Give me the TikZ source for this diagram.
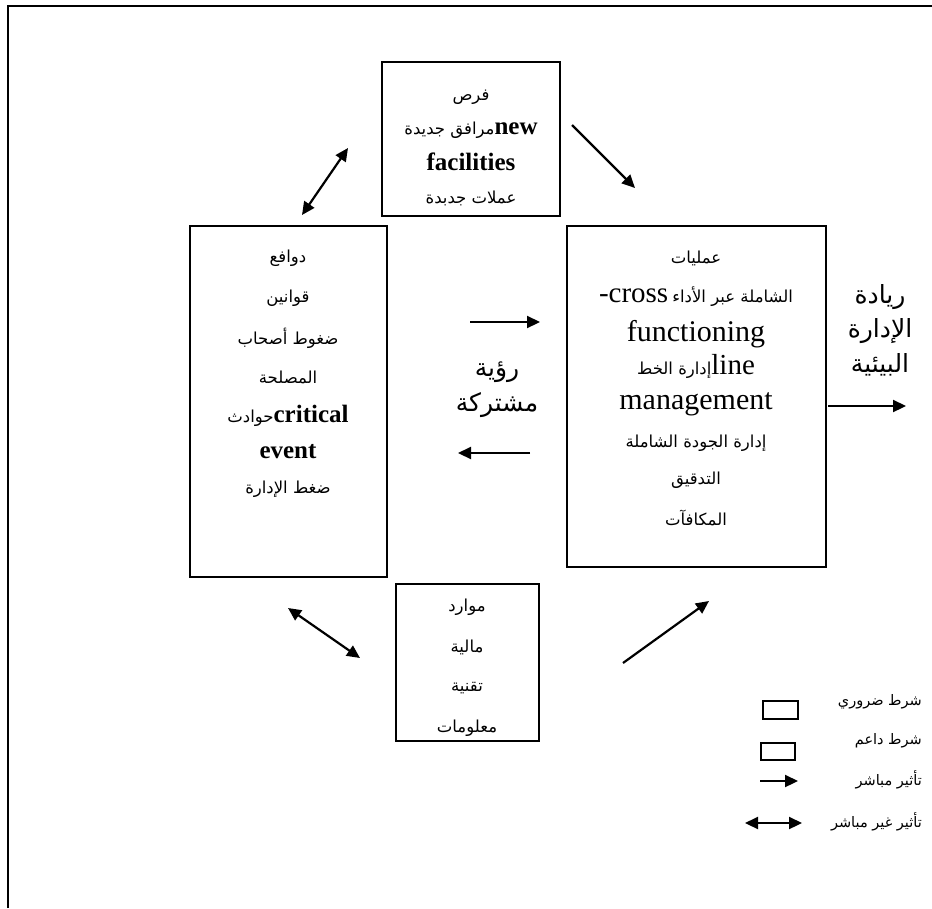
\documentclass[tikz,border=0pt]{standalone}
\usepackage{fontspec}
\setmainfont{Liberation Serif}
\newfontfamily\arabicfont[Script=Arabic]{DejaVu Sans}
\TeXXeTstate=1
\usetikzlibrary{arrows.meta}
\newcommand{\artxt}[1]{{\arabicfont\beginR #1\endR}}
\tikzset{
  box/.style={draw, line width=1.4pt, inner sep=0pt},
  lbox/.style={draw, line width=1.2pt, inner sep=0pt},
  ar/.style={font=\fontsize{16.5}{19}\selectfont, inner sep=0pt},
  en/.style={font=\fontsize{30}{34}\selectfont, inner sep=0pt},
  enb/.style={font=\fontsize{25}{29}\selectfont\bfseries, inner sep=0pt},
  big/.style={font=\fontsize{25}{29}\selectfont, inner sep=0pt},
  leg/.style={font=\fontsize{14.5}{17}\selectfont, inner sep=0pt, anchor=east},
  one/.style={line width=2.2pt, -{Triangle[length=13pt,width=12pt]}},
  two/.style={line width=2.2pt, {Triangle[length=13pt,width=12pt]}-{Triangle[length=13pt,width=12pt]}}
}
\begin{document}
\begin{tikzpicture}[x=1pt,y=-1pt]
\useasboundingbox (0,0) rectangle (932,908);
% outer frame (top and left edges visible)
\draw[line width=2.2pt] (8,908) -- (8,6) -- (932,6);
% boxes
\node[box, minimum width=178pt, minimum height=154pt] (top) at (471,139) {};
\node[box, minimum width=197pt, minimum height=351pt] (left) at (288.5,401.5) {};
\node[box, minimum width=259pt, minimum height=341pt] (right) at (696.5,396.5) {};
\node[box, minimum width=143pt, minimum height=157pt] (bottom) at (467.5,662.5) {};
% top box text
\node[ar] (t1) at (471,97) {\artxt{فرص}};
\node[ar] (t2) at (471,130) {\artxt{مرافق جديدة}\textbf{\fontsize{25}{29}\selectfont new}};
\node[enb] (t3) at (471,162) {facilities};
\node[ar] (t4) at (471,198) {\artxt{عملات جدبدة}};
% left box text
\node[ar] (l1) at (288,258) {\artxt{دوافع}};
\node[ar] (l2) at (288,298) {\artxt{قوانين}};
\node[ar] (l3) at (288,338) {\artxt{ضغوط أصحاب}};
\node[ar] (l4) at (288,377) {\artxt{المصلحة}};
\node[ar] (l5) at (288,416) {\artxt{حوادث}\textbf{\fontsize{25}{29}\selectfont critical}};
\node[enb] (l6) at (288,452) {event};
\node[ar] (l7) at (288,489) {\artxt{ضغط الإدارة}};
% right box text
\node[ar] (r1) at (696,258) {\artxt{عمليات}};
\node[ar] (r2) at (696,297) {{\fontsize{29}{33}\selectfont -cross} \artxt{الشاملة عبر الأداء}};
\node[en] (r3) at (696,334) {functioning};
\node[ar] (r4) at (696,366) {\artxt{إدارة الخط}{\fontsize{29}{33}\selectfont line}};
\node[en] (r5) at (696,404) {management};
\node[ar] (r6) at (696,443) {\artxt{إدارة الجودة الشاملة}};
\node[ar] (r7) at (696,480) {\artxt{التدقيق}};
\node[ar] (r8) at (696,518) {\artxt{المكافآت}};
% bottom box text
\node[ar] (b1) at (467,607) {\artxt{موارد}};
\node[ar] (b2) at (467,647) {\artxt{مالية}};
\node[ar] (b3) at (467,688) {\artxt{تقنية}};
\node[ar] (b4) at (467,728) {\artxt{معلومات}};
% shared vision
\node[big] (v1) at (497,372) {\artxt{رؤية}};
\node[big] (v2) at (497,405) {\artxt{مشتركة}};
% outcome
\node[big] (o1) at (880,297) {\artxt{ريادة}};
\node[big] (o2) at (880,331) {\artxt{الإدارة}};
\node[big] (o3) at (880,365) {\artxt{البيئية}};
% arrow end points
\coordinate (a1s) at (302,215); \coordinate (a1e) at (348,148);
\coordinate (a2s) at (572,125); \coordinate (a2e) at (635,188);
\coordinate (a3s) at (470,322); \coordinate (a3e) at (540,322);
\coordinate (a4s) at (530,453); \coordinate (a4e) at (458,453);
\coordinate (a5s) at (828,406); \coordinate (a5e) at (906,406);
\coordinate (a6s) at (288,608); \coordinate (a6e) at (360,658);
\coordinate (a7s) at (623,663); \coordinate (a7e) at (709,601);
\draw[two] (a1s) -- (a1e);
\draw[one] (a2s) -- (a2e);
\draw[one] (a3s) -- (a3e);
\draw[one] (a4s) -- (a4e);
\draw[one] (a5s) -- (a5e);
\draw[two] (a6s) -- (a6e);
\draw[one] (a7s) -- (a7e);
% legend
\node[lbox, minimum width=35pt, minimum height=18pt] (k1) at (780.5,710) {};
\node[lbox, minimum width=34pt, minimum height=17pt] (k2) at (778,751.5) {};
\coordinate (k3s) at (760,781); \coordinate (k3e) at (798,781);
\coordinate (k4s) at (745,823); \coordinate (k4e) at (802,823);
\draw[one] (k3s) -- (k3e);
\draw[two] (k4s) -- (k4e);
\node[leg] (kt1) at (922,702) {\artxt{شرط ضروري}};
\node[leg] (kt2) at (922,741) {\artxt{شرط داعم}};
\node[leg] (kt3) at (922,780) {\artxt{تأثير مباشر}};
\node[leg] (kt4) at (922,822) {\artxt{تأثير غير مباشر}};
\end{tikzpicture}
\end{document}
